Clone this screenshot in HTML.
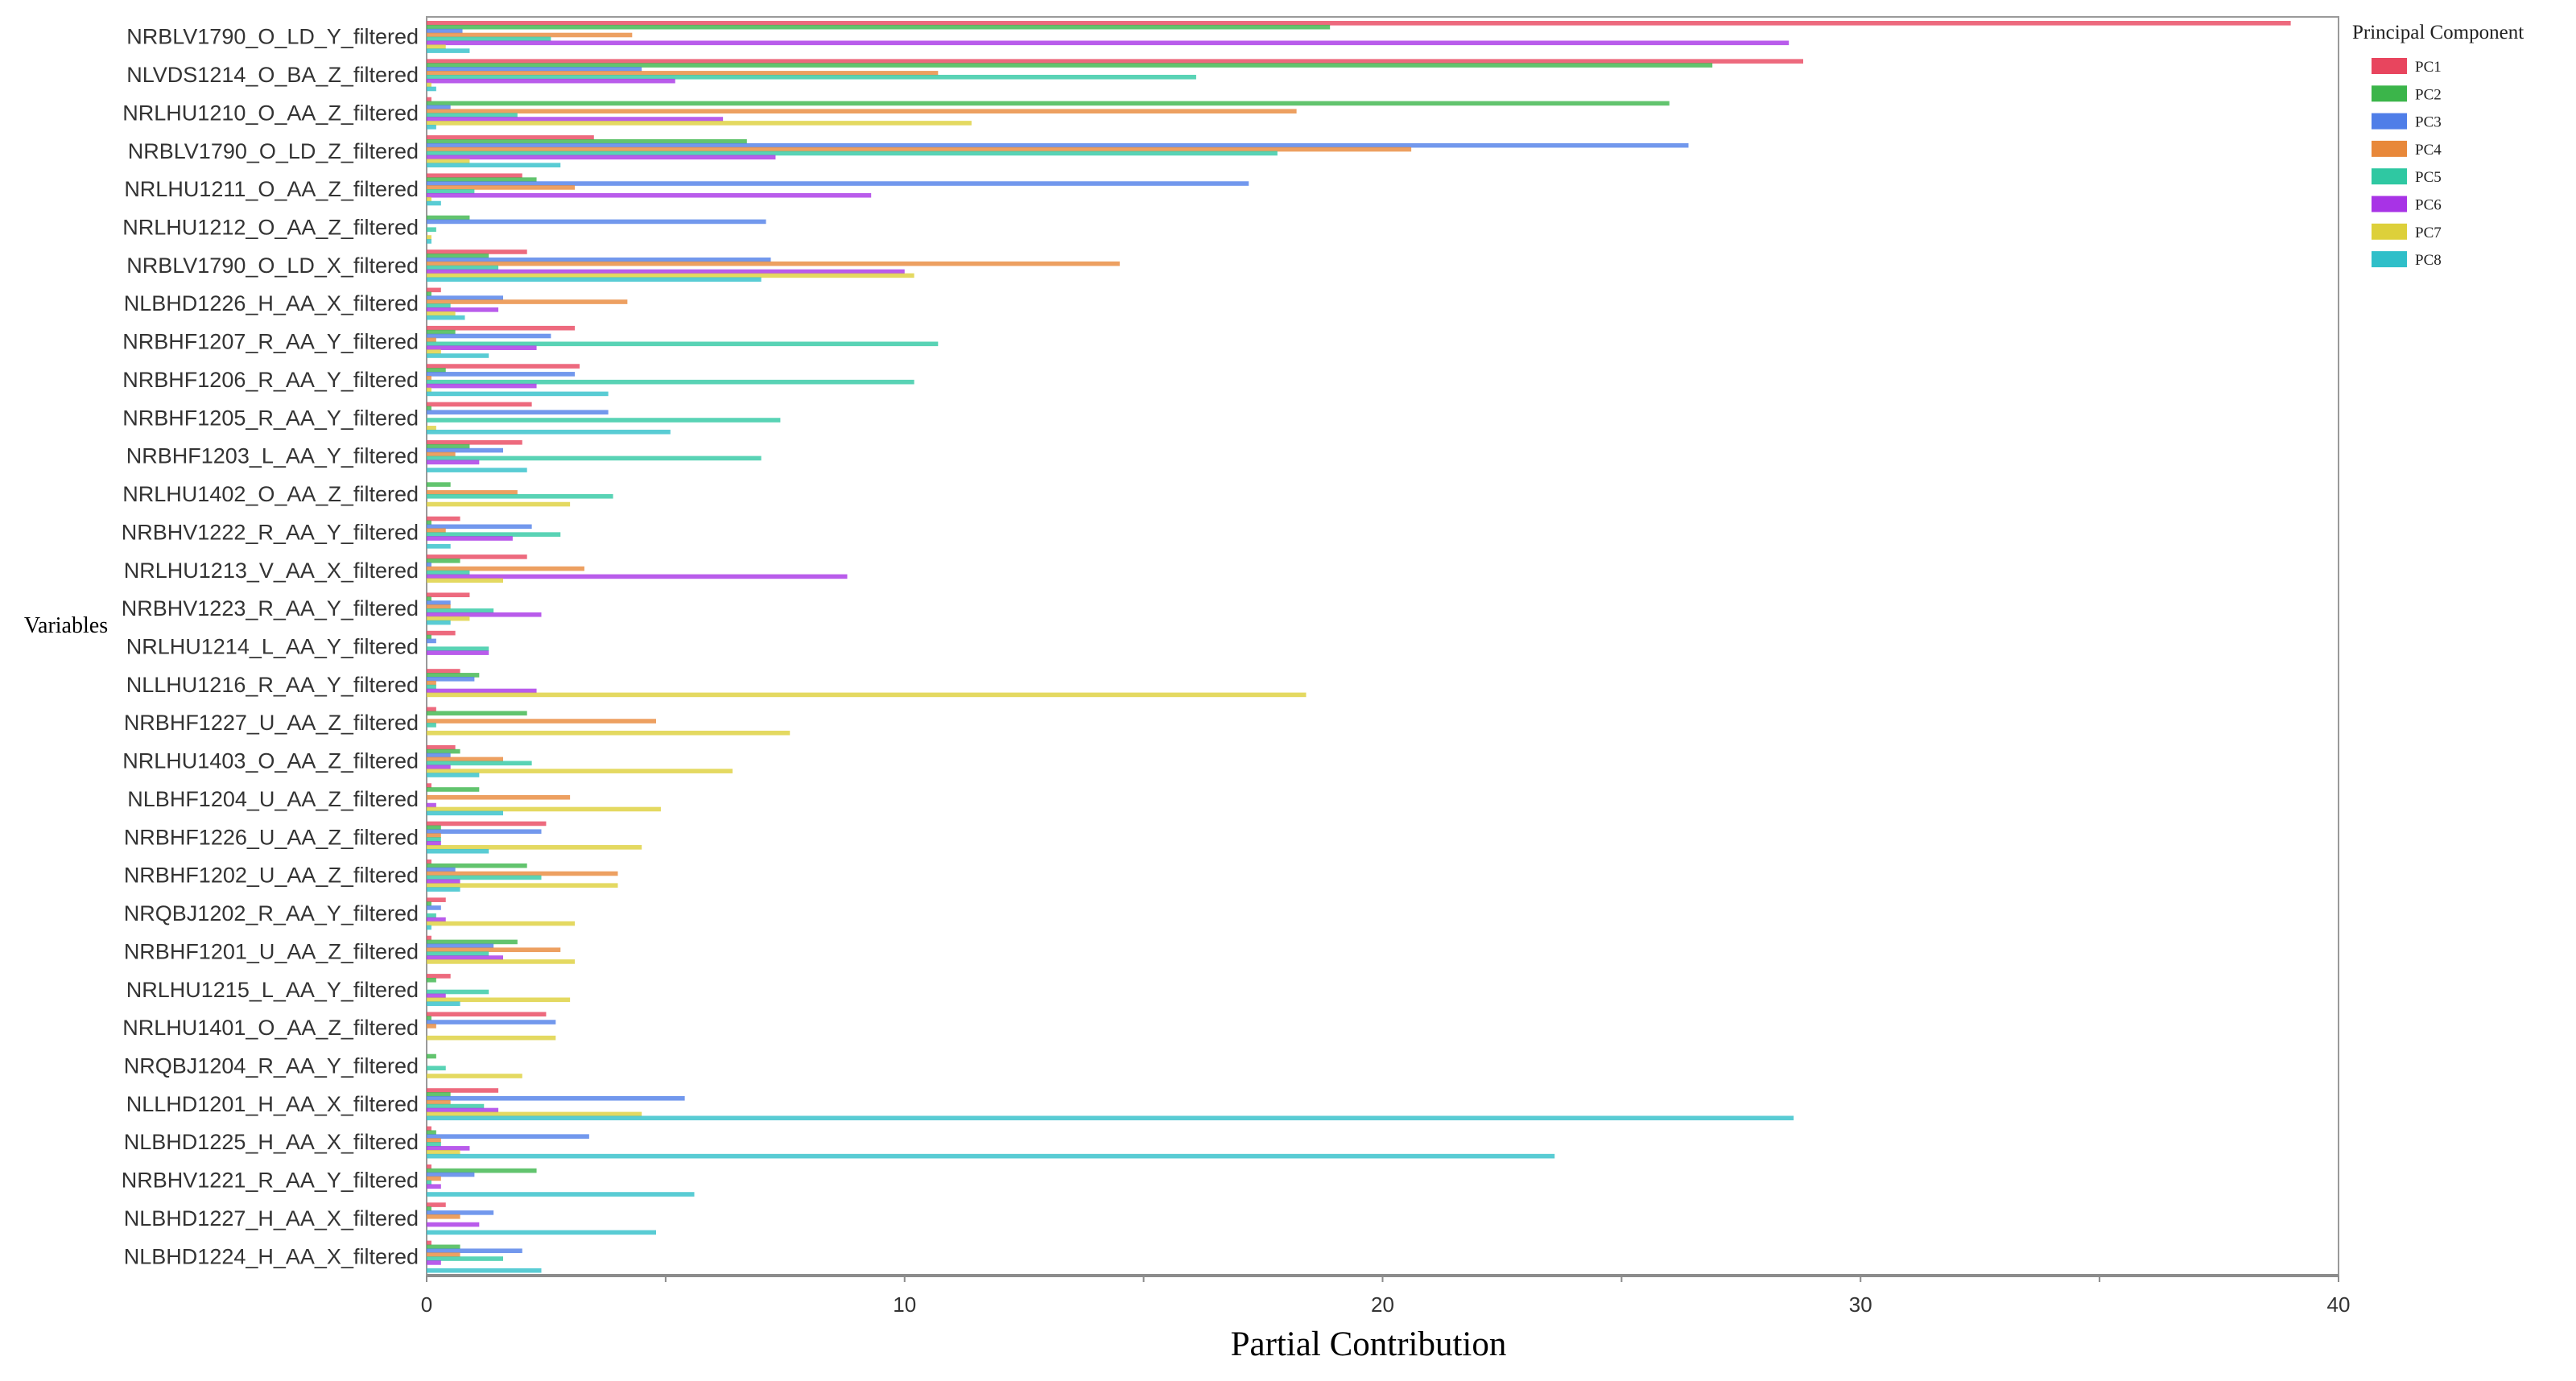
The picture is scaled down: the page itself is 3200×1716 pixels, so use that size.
<!DOCTYPE html>
<html><head><meta charset="utf-8">
<style>
html,body{margin:0;padding:0;background:#fff;}
svg{display:block;}
</style></head>
<body>
<svg id="chart" width="3200" height="1716" viewBox="0 0 3200 1716" xmlns="http://www.w3.org/2000/svg">
<rect x="0" y="0" width="3200" height="1716" fill="#fff"/>
<g id="bars"></g>
<g id="labels"></g>
<g id="xaxis"></g>
<text x="82" y="786" font-family="Liberation Serif, serif" font-size="28" text-anchor="middle">Variables</text>
<text x="1700" y="1684" font-family="Liberation Serif, serif" font-size="43" text-anchor="middle">Partial Contribution</text>
<g id="legend"></g>
</svg>
<script>
const categories = ["NRBLV1790_O_LD_Y_filtered","NLVDS1214_O_BA_Z_filtered","NRLHU1210_O_AA_Z_filtered","NRBLV1790_O_LD_Z_filtered","NRLHU1211_O_AA_Z_filtered","NRLHU1212_O_AA_Z_filtered","NRBLV1790_O_LD_X_filtered","NLBHD1226_H_AA_X_filtered","NRBHF1207_R_AA_Y_filtered","NRBHF1206_R_AA_Y_filtered","NRBHF1205_R_AA_Y_filtered","NRBHF1203_L_AA_Y_filtered","NRLHU1402_O_AA_Z_filtered","NRBHV1222_R_AA_Y_filtered","NRLHU1213_V_AA_X_filtered","NRBHV1223_R_AA_Y_filtered","NRLHU1214_L_AA_Y_filtered","NLLHU1216_R_AA_Y_filtered","NRBHF1227_U_AA_Z_filtered","NRLHU1403_O_AA_Z_filtered","NLBHF1204_U_AA_Z_filtered","NRBHF1226_U_AA_Z_filtered","NRBHF1202_U_AA_Z_filtered","NRQBJ1202_R_AA_Y_filtered","NRBHF1201_U_AA_Z_filtered","NRLHU1215_L_AA_Y_filtered","NRLHU1401_O_AA_Z_filtered","NRQBJ1204_R_AA_Y_filtered","NLLHD1201_H_AA_X_filtered","NLBHD1225_H_AA_X_filtered","NRBHV1221_R_AA_Y_filtered","NLBHD1227_H_AA_X_filtered","NLBHD1224_H_AA_X_filtered"];
const seriesNames = ["PC1","PC2","PC3","PC4","PC5","PC6","PC7","PC8"];
const pc1 = [39.0,28.8,0.1,3.5,2.0,0.0,2.1,0.3,3.1,3.2,2.2,2.0,0.0,0.7,2.1,0.9,0.6,0.7,0.2,0.6,0.1,2.5,0.1,0.4,0.1,0.5,2.5,0.0,1.5,0.1,0.1,0.4,0.1];
const pc2 = [18.9,26.9,26.0,6.7,2.3,0.9,1.3,0.1,0.6,0.4,0.1,0.9,0.5,0.1,0.7,0.1,0.1,1.1,2.1,0.7,1.1,0.3,2.1,0.1,1.9,0.2,0.1,0.2,0.5,0.2,2.3,0.1,0.7];
const pc3 = [0.75,4.5,0.5,26.4,17.2,7.1,7.2,1.6,2.6,3.1,3.8,1.6,0.0,2.2,0.1,0.5,0.2,1.0,0.0,0.5,0.0,2.4,0.6,0.3,1.4,0.0,2.7,0.0,5.4,3.4,1.0,1.4,2.0];
const pc4 = [4.3,10.7,18.2,20.6,3.1,0.0,14.5,4.2,0.2,0.1,0.0,0.6,1.9,0.4,3.3,0.5,0.0,0.2,4.8,1.6,3.0,0.3,4.0,0.0,2.8,0.0,0.2,0.0,0.5,0.3,0.3,0.7,0.7];
const pc5 = [2.6,16.1,1.9,17.8,1.0,0.2,1.5,0.5,10.7,10.2,7.4,7.0,3.9,2.8,0.9,1.4,1.3,0.2,0.2,2.2,0.0,0.3,2.4,0.2,1.3,1.3,0.0,0.4,1.2,0.3,0.1,0.0,1.6];
const pc6 = [28.5,5.2,6.2,7.3,9.3,0.0,10.0,1.5,2.3,2.3,0.0,1.1,0.0,1.8,8.8,2.4,1.3,2.3,0.0,0.5,0.2,0.3,0.7,0.4,1.6,0.4,0.0,0.0,1.5,0.9,0.3,1.1,0.3];
const pc7 = [0.4,0.1,11.4,0.9,0.1,0.1,10.2,0.6,0.3,0.1,0.2,0.0,3.0,0.0,1.6,0.9,0.0,18.4,7.6,6.4,4.9,4.5,4.0,3.1,3.1,3.0,2.7,2.0,4.5,0.7,0.0,0.0,0.0];
const pc8 = [0.9,0.2,0.2,2.8,0.3,0.1,7.0,0.8,1.3,3.8,5.1,2.1,0.0,0.5,0.0,0.5,0.0,0.0,0.0,1.1,1.6,1.3,0.7,0.1,0.0,0.7,0.0,0.0,28.6,23.6,5.6,4.8,2.4];
const xTicks = [0,10,20,30,40];
const minorTicks = [0,5,10,15,20,25,30,35,40];

const series = [pc1,pc2,pc3,pc4,pc5,pc6,pc7,pc8];
const colors = ["#e8455e","#3bb54a","#4f7ee8","#e8883a","#2fc8a2","#a833e6","#ddd03a","#2fbfc9"];
const X0 = 530, X1 = 2905, Y0 = 22, Y1 = 1585, XMAX = 40;
const xs = v => X0 + (v / XMAX) * (X1 - X0);
const band = (Y1 - Y0) / categories.length;
const NS = "http://www.w3.org/2000/svg";
function mk(tag, attrs, parent) {
  const e = document.createElementNS(NS, tag);
  for (const k in attrs) e.setAttribute(k, attrs[k]);
  parent.appendChild(e);
  return e;
}
const gb = document.getElementById('bars');
const gl = document.getElementById('labels');
const gx = document.getElementById('xaxis');
const gL = document.getElementById('legend');

const fr = mk('rect', {x: X0, y: Y0 - 1, width: X1 - X0, height: Y1 - Y0 + 1, fill: 'none', stroke: '#9a9a9a', 'stroke-width': 2}, gb);



const step = 4.9, bh = 5.6;
categories.forEach((c, i) => {
  const top = Y0 + i * band + 4;
  series.forEach((s, j) => {
    const v = s[i];
    const r = mk('rect', {x: X0, y: top + j * step, width: Math.max(0, xs(v) - X0), height: bh, fill: colors[j], 'fill-opacity': 0.8}, gb);
    
    
  });
  const t = mk('text', {x: 520, y: Y0 + (i + 0.5) * band + 9, 'font-family': 'Liberation Sans, sans-serif', 'font-size': 27, 'text-anchor': 'end', fill: '#333'}, gl);
  t.textContent = c;
  
  
});

const ax = mk('line', {x1: X0, y1: Y1, x2: X1, y2: Y1, stroke: '#8c8c8c', 'stroke-width': 4}, gx);


minorTicks.forEach(v => {
  const l = mk('line', {x1: xs(v), y1: Y1, x2: xs(v), y2: Y1 + 8, stroke: '#8c8c8c', 'stroke-width': 2}, gx);
  
  
});
xTicks.forEach(v => {
  const t = mk('text', {x: xs(v), y: 1630, 'font-family': 'Liberation Sans, sans-serif', 'font-size': 26, 'text-anchor': 'middle', fill: '#333'}, gx);
  t.textContent = String(v);
  
  
});

const lt = mk('text', {x: 2922, y: 48, 'font-family': 'Liberation Serif, serif', 'font-size': 25, fill: '#222'}, gL);
lt.textContent = 'Principal Component';


seriesNames.forEach((n, j) => {
  const y = 72 + j * 34.3;
  const sw = mk('rect', {x: 2946, y: y, width: 44, height: 20, fill: colors[j]}, gL);
  
  
  const t = mk('text', {x: 3000, y: y + 17, 'font-family': 'Liberation Serif, serif', 'font-size': 19, fill: '#222'}, gL);
  t.textContent = n;
  
  
});
</script>
</body></html>
